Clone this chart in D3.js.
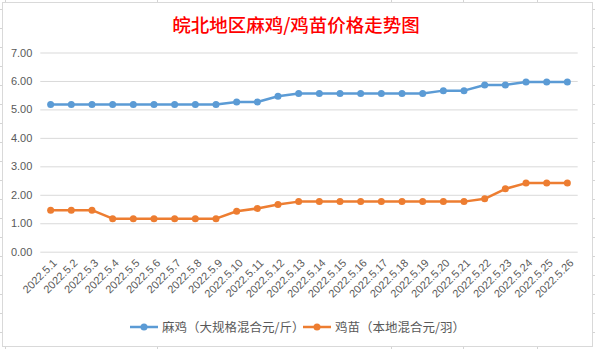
<!DOCTYPE html>
<html><head><meta charset="utf-8">
<script src="https://cdn.jsdelivr.net/npm/d3@7"></script>
<style>body{margin:0;background:#fff;}svg{display:block;}</style>
</head><body>
<svg id="c" width="595" height="349"></svg>
<script>
const categories = ["2022.5.1","2022.5.2","2022.5.3","2022.5.4","2022.5.5","2022.5.6","2022.5.7","2022.5.8","2022.5.9","2022.5.10","2022.5.11","2022.5.12","2022.5.13","2022.5.14","2022.5.15","2022.5.16","2022.5.17","2022.5.18","2022.5.19","2022.5.20","2022.5.21","2022.5.22","2022.5.23","2022.5.24","2022.5.25","2022.5.26"];
const maji = [5.17,5.17,5.17,5.17,5.17,5.17,5.17,5.17,5.17,5.26,5.26,5.46,5.56,5.56,5.56,5.56,5.56,5.56,5.56,5.66,5.66,5.86,5.86,5.96,5.96,5.96];
const jimiao = [1.46,1.46,1.46,1.16,1.16,1.16,1.16,1.16,1.16,1.42,1.52,1.66,1.76,1.76,1.76,1.76,1.76,1.76,1.76,1.76,1.76,1.86,2.21,2.41,2.41,2.41];
const yTicks = [0,1,2,3,4,5,6,7];
const seriesNames = ["麻鸡（大规格混合元/斤）","鸡苗（本地混合元/羽）"];
const title = "皖北地区麻鸡/鸡苗价格走势图";
const colors = ["#5B9BD5","#ED7D31"];

const svg = d3.select("#c");
const stub = svg.append("g").attr("stroke","#d4d4d4").attr("stroke-width",1);
[9,28,47,66,85,104,123,142,161,180,199,218,237,256,275,294,313,332].forEach(y=>{
  stub.append("line").attr("x1",0).attr("x2",2).attr("y1",y+0.5).attr("y2",y+0.5);
  stub.append("line").attr("x1",593).attr("x2",595).attr("y1",y+0.5).attr("y2",y+0.5);
});
[5,157,391,463,537].forEach(x=>{
  stub.append("line").attr("x1",x+0.5).attr("x2",x+0.5).attr("y1",0).attr("y2",2);
  stub.append("line").attr("x1",x+0.5).attr("x2",x+0.5).attr("y1",347).attr("y2",349);
});
svg.append("rect").attr("x",2.5).attr("y",2.5).attr("width",590).attr("height",344)
  .attr("fill","#fff").attr("stroke","#d9d9d9").attr("stroke-width",1);

const x = d3.scaleBand().domain(categories).range([40.3,577.7]);
const y = d3.scaleLinear().domain([0,7]).range([251.7,52.5]);

svg.append("text").attr("x",296).attr("y",32).attr("text-anchor","middle")
  .attr("font-family","'Noto Sans CJK SC'").attr("font-size",18.5).attr("font-weight",500)
  .attr("fill","#FF0000").text(title);

const yAxis = d3.axisLeft(y).tickValues(yTicks).tickFormat(d3.format(".2f")).tickSize(-(577.7-40.3)).tickPadding(8);
const gy = svg.append("g").attr("transform","translate(40.3,0)").call(yAxis);
gy.select(".domain").remove();
gy.selectAll(".tick line").attr("stroke","#d9d9d9");
gy.selectAll(".tick text").attr("fill","#595959").attr("font-family","'Liberation Sans',Arial").attr("font-size",11).attr("x",-8);

const xAxis = d3.axisBottom(x).tickSize(0).tickPadding(0);
const gx = svg.append("g").attr("transform","translate(0,251.7)").call(xAxis);
gx.select(".domain").remove();
gx.selectAll(".tick text").attr("fill","#595959").attr("font-family","'Liberation Sans',Arial").attr("font-size",11)
  .attr("text-anchor","end").attr("dy",0).attr("y",0)
  .attr("transform","translate(7,12) rotate(-45)");

const cx = d => x(d) + x.bandwidth()/2;
[maji,jimiao].forEach((vals,i)=>{
  const data = categories.map((c,j)=>({c,v:vals[j]}));
  svg.append("path").datum(data).attr("fill","none").attr("stroke",colors[i]).attr("stroke-width",2.5)
    .attr("stroke-linejoin","round")
    .attr("d",d3.line().x(d=>cx(d.c)).y(d=>y(d.v)));
  svg.append("g").selectAll("circle").data(data).join("circle")
    .attr("cx",d=>cx(d.c)).attr("cy",d=>y(d.v)).attr("r",3.5).attr("fill",colors[i]);
});

const leg = [{x:130,tx:162},{x:303,tx:335}];
leg.forEach((l,i)=>{
  const g = svg.append("g");
  g.append("line").attr("x1",l.x).attr("x2",l.x+28).attr("y1",327).attr("y2",327).attr("stroke",colors[i]).attr("stroke-width",2.5);
  g.append("circle").attr("cx",l.x+14).attr("cy",327).attr("r",3.5).attr("fill",colors[i]);
  g.append("text").attr("x",l.tx).attr("y",331.5).attr("fill","#595959")
    .attr("font-family","'Noto Sans CJK SC'").attr("font-size",12.5).text(seriesNames[i]);
});
</script>
</body></html>
